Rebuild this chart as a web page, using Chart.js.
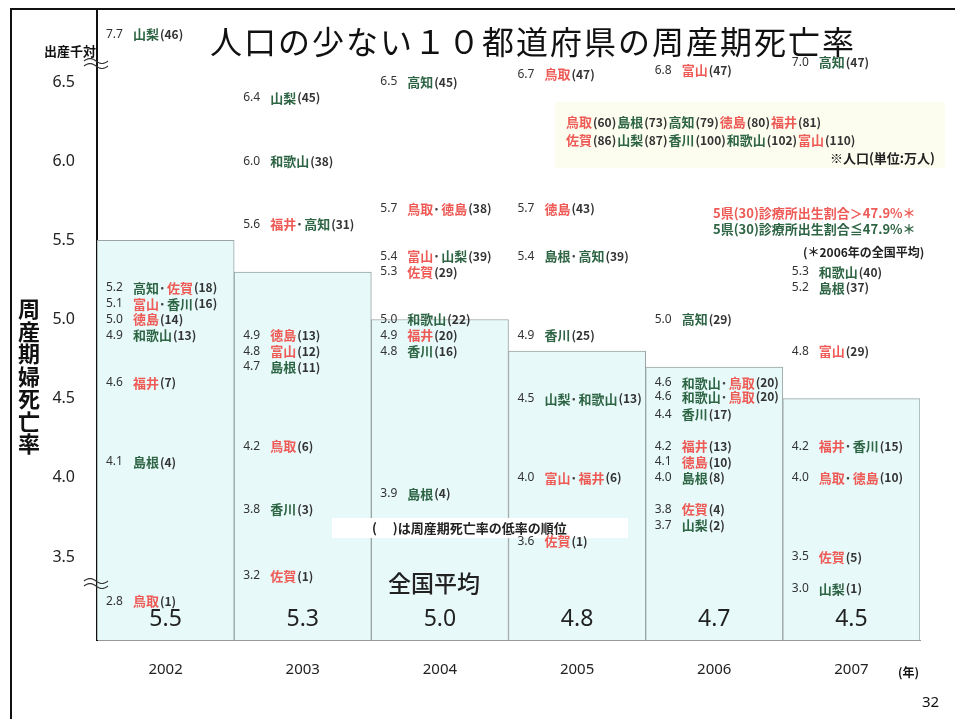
<!DOCTYPE html>
<html>
<head>
<meta charset="utf-8">
<script src="https://cdn.jsdelivr.net/npm/chart.js@4.4.1/dist/chart.umd.min.js"></script>
<style>
  html, body { margin: 0; padding: 0; background: #fff; }
  canvas { display: block; }
</style>
</head>
<body>
<canvas id="chart" width="955" height="719"></canvas>
<script>
// データ
const years = ['2002', '2003', '2004', '2005', '2006', '2007'];
const nationalAvg = [5.5, 5.3, 5.0, 4.8, 4.7, 4.5];
const yTicks = [3.5, 4.0, 4.5, 5.0, 5.5, 6.0, 6.5];

// [率, 県名, 順位]
const pref2002 = [[7.7, ['山梨'], 46], [5.2, ['高知', '佐賀'], 18], [5.1, ['富山', '香川'], 16], [5.0, ['徳島'], 14],
                  [4.9, ['和歌山'], 13], [4.6, ['福井'], 7], [4.1, ['島根'], 4], [2.8, ['鳥取'], 1]];
const pref2003 = [[6.4, ['山梨'], 45], [6.0, ['和歌山'], 38], [5.6, ['福井', '高知'], 31], [4.9, ['徳島'], 13],
                  [4.8, ['富山'], 12], [4.7, ['島根'], 11], [4.2, ['鳥取'], 6], [3.8, ['香川'], 3], [3.2, ['佐賀'], 1]];
const pref2004 = [[6.5, ['高知'], 45], [5.7, ['鳥取', '徳島'], 38], [5.4, ['富山', '山梨'], 39], [5.3, ['佐賀'], 29],
                  [5.0, ['和歌山'], 22], [4.9, ['福井'], 20], [4.8, ['香川'], 16], [3.9, ['島根'], 4]];
const pref2005 = [[6.7, ['鳥取'], 47], [5.7, ['徳島'], 43], [5.4, ['島根', '高知'], 39], [4.9, ['香川'], 25],
                  [4.5, ['山梨', '和歌山'], 13], [4.0, ['富山', '福井'], 6], [3.6, ['佐賀'], 1]];
const pref2006 = [[6.8, ['富山'], 47], [5.0, ['高知'], 29], [4.6, ['和歌山', '鳥取'], 20], [4.6, ['和歌山', '鳥取'], 20],
                  [4.4, ['香川'], 17], [4.2, ['福井'], 13], [4.1, ['徳島'], 10], [4.0, ['島根'], 8],
                  [3.8, ['佐賀'], 4], [3.7, ['山梨'], 2]];
const pref2007 = [[7.0, ['高知'], 47], [5.3, ['和歌山'], 40], [5.2, ['島根'], 37], [4.8, ['富山'], 29],
                  [4.2, ['福井', '香川'], 15], [4.0, ['鳥取', '徳島'], 10], [3.5, ['佐賀'], 5], [3.0, ['山梨'], 1]];
const prefByYear = [pref2002, pref2003, pref2004, pref2005, pref2006, pref2007];

// 人口（万人）
const popRow1 = [['鳥取', 60], ['島根', 73], ['高知', 79], ['徳島', 80], ['福井', 81]];
const popRow2 = [['佐賀', 86], ['山梨', 87], ['香川', 100], ['和歌山', 102], ['富山', 110]];

// 診療所出生割合 > 47.9% の県
const redPrefs = ['鳥取', '徳島', '福井', '佐賀', '富山'];

const JP = '"Noto Sans CJK JP", "Noto Sans", sans-serif';
const RED = '#ee5a55';
const GREEN = '#2e6544';
const prefColor = n => redPrefs.includes(n) ? RED : GREEN;

// 波線で省略した範囲を圧縮
function axisPos(v) {
    if (v > 6.5) return 6.5 + (v - 6.5) * 0.25;
    if (v < 3.5) return 3.5 + (v - 3.5) * 0.4;
    return v;
}

function wave(ctx, x0, y0, w) {
    ctx.save();
    ctx.strokeStyle = '#333';
    ctx.lineWidth = 1.2;
    [0, 5].forEach(dy => {
        ctx.beginPath();
        for (let t = 0; t <= w; t++) {
            const y = y0 + dy - 2.5 * Math.sin(t / w * Math.PI * 2);
            if (t === 0) ctx.moveTo(x0 + t, y); else ctx.lineTo(x0 + t, y);
        }
        ctx.stroke();
    });
    ctx.restore();
}

function drawEntry(ctx, x, y, rate, names, rank) {
    ctx.textAlign = 'left';
    ctx.textBaseline = 'middle';
    ctx.font = '12px "Noto Sans", sans-serif';
    ctx.fillStyle = '#333';
    ctx.fillText(rate.toFixed(1), x, y);
    let cx = x + 27;
    names.forEach((n, k) => {
        if (k > 0) {
            ctx.font = 'bold 13px ' + JP;
            ctx.fillStyle = '#444';
            ctx.fillText('･', cx, y);
            cx += 8;
        }
        ctx.font = 'bold 13px ' + JP;
        ctx.fillStyle = prefColor(n);
        ctx.fillText(n, cx, y);
        cx += ctx.measureText(n).width;
    });
    ctx.font = '600 12px ' + JP;
    ctx.fillStyle = '#333';
    ctx.fillText('(' + rank + ')', cx + 1, y);
}

function drawPopRow(ctx, x, y, row) {
    let cx = x;
    ctx.textAlign = 'left';
    ctx.textBaseline = 'middle';
    row.forEach(([n, p]) => {
        ctx.font = 'bold 13px ' + JP;
        ctx.fillStyle = prefColor(n);
        ctx.fillText(n, cx, y);
        cx += ctx.measureText(n).width;
        ctx.font = '600 12px ' + JP;
        ctx.fillStyle = '#333';
        const s = '(' + p + ')';
        ctx.fillText(s, cx + 1, y);
        cx += ctx.measureText(s).width + 2;
    });
}

const decorPlugin = {
    id: 'decor',
    beforeDraw(chart) {
        const ctx = chart.ctx;
        ctx.save();
        ctx.fillStyle = '#fff';
        ctx.fillRect(0, 0, chart.width, chart.height);
        // 外枠と縦軸の上への延長
        ctx.strokeStyle = '#111';
        ctx.lineWidth = 2;
        ctx.beginPath();
        ctx.moveTo(11, chart.height);
        ctx.lineTo(11, 9);
        ctx.lineTo(chart.width, 9);
        ctx.moveTo(chart.chartArea.left, 9);
        ctx.lineTo(chart.chartArea.left, chart.chartArea.top + 1);
        ctx.stroke();
        // 人口の囲み
        ctx.fillStyle = '#fcfcef';
        ctx.fillRect(555, 102, 390, 66);
        ctx.restore();
    },
    afterDatasetsDraw(chart) {
        const ctx = chart.ctx;
        const y = chart.scales.y;
        const meta = chart.getDatasetMeta(0);
        ctx.save();

        // 注記の白地
        ctx.fillStyle = '#fff';
        ctx.fillRect(332, 518, 296, 20);

        // 各年の県別ラベル
        prefByYear.forEach((list, i) => {
            const bar = meta.data[i];
            const left = bar.x - bar.width / 2 + 9;
            let last = -Infinity;
            list.forEach(([rate, names, rank]) => {
                let py = y.getPixelForValue(axisPos(rate));
                if (py < last + 14) py = last + 14;
                last = py;
                drawEntry(ctx, left, py, rate, names, rank);
            });
        });

        // 全国平均の値
        ctx.textAlign = 'center';
        ctx.textBaseline = 'middle';
        ctx.font = '23px "Noto Sans", sans-serif';
        ctx.fillStyle = '#222';
        meta.data.forEach((bar, i) => {
            ctx.fillText(nationalAvg[i].toFixed(1), bar.x, 619);
        });

        ctx.fillStyle = '#222';
        ctx.textAlign = 'left';
        ctx.font = '600 13px ' + JP;
        ctx.fillText('(　 )は周産期死亡率の低率の順位', 372, 528);

        ctx.font = '500 23px ' + JP;
        ctx.fillText('全国平均', 388, 583);

        // 人口
        drawPopRow(ctx, 566, 122, popRow1);
        drawPopRow(ctx, 566, 140, popRow2);
        ctx.textAlign = 'right';
        ctx.font = 'bold 13px ' + JP;
        ctx.fillStyle = '#222';
        ctx.fillText('※人口(単位:万人)', 935, 158);

        ctx.textAlign = 'left';
        ctx.fillStyle = RED;
        ctx.fillText('5県(30)診療所出生割合＞47.9%＊', 713, 213);
        ctx.fillStyle = GREEN;
        ctx.fillText('5県(30)診療所出生割合≦47.9%＊', 713, 229);
        ctx.fillStyle = '#222';
        ctx.font = 'bold 12px ' + JP;
        ctx.fillText('(＊2006年の全国平均)', 803, 252);

        ctx.restore();
    },
    afterDraw(chart) {
        const ctx = chart.ctx;
        ctx.save();
        ctx.fillStyle = '#111';
        ctx.textBaseline = 'middle';
        ctx.textAlign = 'center';
        ctx.font = '32px ' + JP;
        ctx.letterSpacing = '2px';
        ctx.fillText('人口の少ない１０都道府県の周産期死亡率', 533, 42);
        ctx.letterSpacing = '0px';

        // 縦書きの軸タイトル
        ctx.font = 'bold 22px ' + JP;
        [...'周産期婦死亡率'].forEach((c, k) => {
            ctx.fillText(c, 29, 309 + k * 22.5);
        });

        ctx.textAlign = 'left';
        ctx.font = 'bold 13px ' + JP;
        ctx.fillText('出産千対', 44, 51);
        ctx.font = 'bold 12px ' + JP;
        ctx.fillText('(年)', 898, 672);
        ctx.font = '15px "Noto Sans", sans-serif';
        ctx.fillText('32', 922, 703);

        wave(ctx, 84, 61, 24);
        wave(ctx, 84, 581, 24);
        ctx.restore();
    }
};

const chart = new Chart(document.getElementById('chart'), {
    type: 'bar',
    data: {
        labels: years,
        datasets: [{
            label: '全国平均',
            data: nationalAvg,
            backgroundColor: '#e7f9f9',
            borderColor: '#9aa4a4',
            borderWidth: 1,
            categoryPercentage: 1,
            barPercentage: 1
        }]
    },
    options: {
        responsive: false,
        animation: false,
        layout: { padding: { top: 10, right: 35, left: 0, bottom: 0 } },
        plugins: { legend: { display: false }, tooltip: { enabled: false } },
        scales: {
            x: {
                grid: { display: false, drawTicks: false },
                border: { display: true, color: '#999', width: 1 },
                ticks: { color: '#222', font: { family: 'Noto Sans', size: 15 }, padding: 21 },
                afterFit: s => { s.height = 79; }
            },
            y: {
                min: 2.975,
                max: 6.955,
                afterBuildTicks: s => { s.ticks = yTicks.map(v => ({ value: v })); },
                grid: { display: false, drawTicks: false },
                border: { display: true, color: '#111', width: 2 },
                ticks: {
                    color: '#222',
                    font: { family: 'Noto Sans', size: 16 },
                    padding: 22,
                    callback: v => v.toFixed(1)
                },
                afterFit: s => { s.width = 97; }
            }
        }
    },
    plugins: [decorPlugin]
});

// 目盛り 6.5 → y=82, 3.5 → y=557 になるよう範囲を合わせる
const area = chart.chartArea;
const pxPerUnit = (557 - 82) / 3;
chart.options.scales.y.max = 6.5 + (82 - area.top) / pxPerUnit;
chart.options.scales.y.min = 3.5 - (area.bottom - 557) / pxPerUnit;
chart.update();
</script>
</body>
</html>
